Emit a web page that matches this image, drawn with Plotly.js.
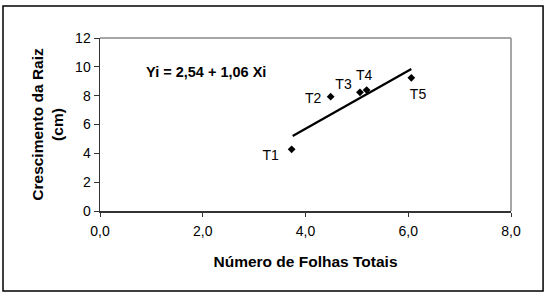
<!DOCTYPE html>
<html>
<head>
<meta charset="utf-8">
<script src="https://cdn.plot.ly/plotly-3.0.1.min.js"></script>
<style>
html,body{margin:0;padding:0;background:#fff;}
#chart{width:550px;height:301px;}
</style>
</head>
<body>
<div id="chart"></div>
<script>
// Data
const pointLabels = ["T1", "T2", "T3", "T4", "T5"];
const folhas = [3.73, 4.49, 5.06, 5.19, 6.06];       // Número de Folhas Totais
const raiz = [4.28, 7.93, 8.23, 8.39, 9.24];         // Crescimento da Raiz (cm)
const trendX = [3.75, 6.06];                          // drawn trend line ends
const trendY = [5.2, 9.85];
const labelX = [3.32, 4.15, 4.74, 5.14, 6.19];        // label anchor positions
const labelY = [3.81, 7.71, 8.72, 9.32, 7.98];
const xTicks = [0, 2, 4, 6, 8];
const yTicks = [0, 2, 4, 6, 8, 10, 12];
const equationText = "Yi = 2,54 + 1,06 Xi";

const font = "Liberation Sans, Arial, sans-serif";

const traces = [
  {
    x: trendX, y: trendY, mode: "lines", type: "scatter",
    line: {color: "#000", width: 2.2}, hoverinfo: "skip", showlegend: false
  },
  {
    x: folhas, y: raiz, mode: "markers", type: "scatter",
    marker: {symbol: "diamond", size: 6, color: "#000"},
    showlegend: false
  },
  {
    x: labelX, y: labelY, mode: "text", type: "scatter",
    text: pointLabels, textposition: "middle center",
    textfont: {family: font, size: 14, color: "#000"},
    showlegend: false, hoverinfo: "skip"
  }
];

const layout = {
  width: 550, height: 301,
  margin: {l: 100, r: 39, t: 38, b: 90, pad: 0},
  paper_bgcolor: "#fff", plot_bgcolor: "#fff",
  separators: ",.",
  font: {family: font, size: 14, color: "#000"},
  xaxis: {
    range: [0, 8], tickvals: xTicks, tickformat: ".1f",
    showgrid: false, zeroline: false,
    showline: true, linecolor: "#333", linewidth: 1.5,
    ticks: "outside", ticklen: 4, tickcolor: "#333", tickwidth: 1,
    ticklabelstandoff: 3,
    tickfont: {family: font, size: 14, color: "#000"},
    title: {text: "<b>Número de Folhas Totais</b>", font: {family: font, size: 15.5, color: "#000"}, standoff: 18}
  },
  yaxis: {
    range: [0, 12], tickvals: yTicks,
    showgrid: false, zeroline: false,
    showline: true, linecolor: "#333", linewidth: 1.5,
    ticks: "outside", ticklen: 5, tickcolor: "#333", tickwidth: 1,
    tickfont: {family: font, size: 14, color: "#000"},
    title: {text: "<b>Crescimento da Raiz<br>(cm)</b>", font: {family: font, size: 15.5, color: "#000"}, standoff: 7}
  },
  shapes: [
    {type: "line", xref: "paper", yref: "paper", x0: 0, x1: 1, y0: 1, y1: 1,
     line: {color: "#888", width: 1.5}},
    {type: "line", xref: "paper", yref: "paper", x0: 1, x1: 1, y0: 0, y1: 1,
     line: {color: "#888", width: 1.5}},
    {type: "rect", xref: "paper", yref: "paper",
     x0: -0.236, x1: 1.078, y0: -0.462, y1: 1.185,
     line: {color: "#000", width: 1.5}}
  ],
  annotations: [
    {xref: "x", yref: "y", x: 0.86, y: 9.66, xanchor: "left", yanchor: "middle",
     text: "<b>" + equationText + "</b>", showarrow: false,
     font: {family: font, size: 14.5, color: "#000"}}
  ]
};

Plotly.newPlot("chart", traces, layout, {displayModeBar: false, staticPlot: true});
</script>
</body>
</html>
